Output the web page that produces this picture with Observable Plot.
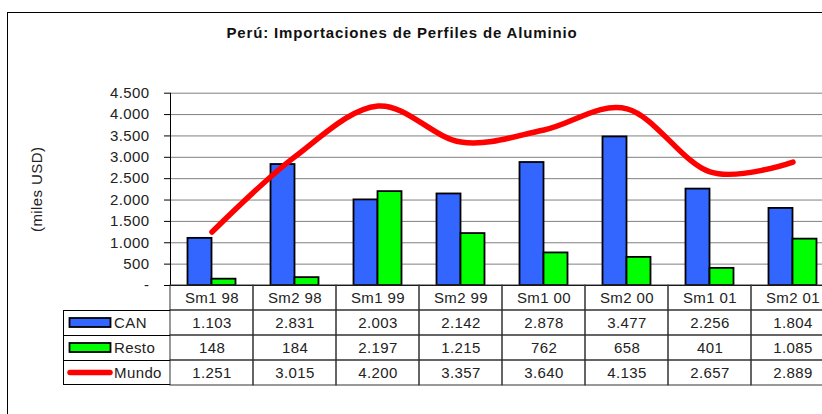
<!DOCTYPE html>
<html>
<head>
<meta charset="utf-8">
<script src="https://cdn.jsdelivr.net/npm/d3@7"></script>
<script src="https://cdn.jsdelivr.net/npm/@observablehq/plot@0.6"></script>
<style>
  html, body { margin: 0; padding: 0; background: #fff; overflow: hidden; }
  #wrap { position: relative; width: 822px; height: 414px; overflow: hidden; font-family: "Liberation Sans", Arial, sans-serif; }
  #frame { position: absolute; left: 7px; top: 12px; width: 900px; height: 500px; border: 1px solid #000; box-sizing: border-box; }
  #title { position: absolute; left: 0; top: 24px; width: 804px; text-align: center; font-size: 15px; letter-spacing: 0.85px; font-weight: bold; color: #111; }
  .layer { position: absolute; left: 0; top: 0; max-width: none !important; }
</style>
</head>
<body>
<div id="wrap">
  <div id="frame"></div>
  <div id="title">Perú: Importaciones de Perfiles de Aluminio</div>
</div>
<script>
const categories = ["Sm1 98","Sm2 98","Sm1 99","Sm2 99","Sm1 00","Sm2 00","Sm1 01","Sm2 01"];
const can   = [1103, 2831, 2003, 2142, 2878, 3477, 2256, 1804];
const resto = [148, 184, 2197, 1215, 762, 658, 401, 1085];
const mundo = [1251, 3015, 4200, 3357, 3640, 4135, 2657, 2889];
const yTicks = [0, 500, 1000, 1500, 2000, 2500, 3000, 3500, 4000, 4500];
const seriesNames = ["CAN", "Resto", "Mundo"];
const seriesColors = {CAN: "#3366ff", Resto: "#00ff00", Mundo: "#ff0000"};

const loc = d3.formatLocale({decimal: ",", thousands: ".", grouping: [3], currency: ["", ""]});
const fmt = loc.format(",d");

const canData = categories.map((c, i) => ({cat: c, value: can[i]}));
const restoData = categories.map((c, i) => ({cat: c, value: resto[i]}));
const mundoData = categories.map((c, i) => ({cat: c, value: mundo[i]}));

const W = 840, H = 414, ML = 170, MR = 6;
const font = {fontFamily: "'Liberation Sans', Arial, sans-serif", fontSize: "15px", color: "#222", background: "transparent", letterSpacing: "0.4px", maxWidth: "none"};

const chart = Plot.plot({
  width: W, height: H,
  marginLeft: ML, marginRight: MR, marginTop: 92.7, marginBottom: 129,
  style: font,
  x: {domain: categories, padding: 0, axis: null},
  y: {domain: [0, 4500]},
  marks: [
    Plot.gridY(yTicks, {stroke: "#808080", strokeOpacity: 1, strokeWidth: 1}),
    Plot.axisY({ticks: yTicks, tickFormat: d => d === 0 ? "-" : fmt(d), tickSize: 6, tickPadding: 15,
      stroke: "#000", label: "(miles USD)", labelAnchor: "center", labelArrow: "none", labelOffset: 139}),
    Plot.barY(canData, {x: "cat", y: "value", fill: seriesColors.CAN, stroke: "#000", strokeWidth: 1.8, insetLeft: 17.5, insetRight: 41.5}),
    Plot.barY(restoData, {x: "cat", y: "value", fill: seriesColors.Resto, stroke: "#000", strokeWidth: 1.8, insetLeft: 41.5, insetRight: 17.5}),
    Plot.ruleY([0], {stroke: "#000", strokeWidth: 1}),
    Plot.frame({anchor: "left", stroke: "#000"}),
    Plot.line(mundoData, {x: "cat", y: "value", stroke: seriesColors.Mundo, strokeWidth: 5.5, curve: "cardinal", strokeLinecap: "round", strokeLinejoin: "round"})
  ]
});
chart.classList.add("layer");
chart.style.maxWidth = "none";

// table rows
const rows = ["hdr", ...seriesNames];
const rowValues = {CAN: can, Resto: resto, Mundo: mundo};
const cells = [];
rows.forEach(r => categories.forEach((c, i) => {
  cells.push({row: r, cat: c, text: r === "hdr" ? c : fmt(rowValues[r][i])});
}));

const table = Plot.plot({
  width: W, height: H,
  marginLeft: ML, marginRight: MR, marginTop: 285, marginBottom: 29,
  style: font,
  x: {domain: categories, padding: 0, axis: null},
  y: {domain: rows, padding: 0, axis: null},
  marks: [
    Plot.cell(cells, {x: "cat", y: "row", fill: "none", stroke: "#333", strokeWidth: 1, inset: 0}),
    Plot.text(cells, {x: "cat", y: "row", text: "text", fill: "#222", fontSize: 15})
  ]
});
table.classList.add("layer");
table.style.maxWidth = "none";

document.getElementById("wrap").appendChild(chart);
document.getElementById("wrap").appendChild(table);

// legend column drawn in the table's left margin using its y scale
const ys = table.scale("y");
const bw = ys.bandwidth;
const svg = d3.select(table);
const g = svg.append("g").attr("text-anchor", "start");
const legLeft = 63;
const top0 = ys.apply("CAN"), bottom0 = ys.apply("Mundo") + bw;
g.append("line").attr("x1", legLeft + 0.5).attr("x2", legLeft + 0.5).attr("y1", top0).attr("y2", bottom0).attr("stroke", "#000");
seriesNames.forEach(s => {
  const y0 = ys.apply(s);
  const yc = y0 + bw / 2;
  g.append("line").attr("x1", legLeft).attr("x2", ML).attr("y1", y0 + 0.5).attr("y2", y0 + 0.5).attr("stroke", "#000");
  if (s === "Mundo") {
    g.append("line").attr("x1", 70).attr("x2", 110).attr("y1", yc).attr("y2", yc)
      .attr("stroke", seriesColors[s]).attr("stroke-width", 5.5).attr("stroke-linecap", "round");
  } else {
    g.append("rect").attr("x", 69.5).attr("y", yc - 4.5).attr("width", 41).attr("height", 9)
      .attr("fill", seriesColors[s]).attr("stroke", "#000").attr("stroke-width", 1.8);
  }
  g.append("text").attr("x", 114).attr("y", yc).attr("dy", "0.35em").attr("fill", "#222")
    .attr("text-anchor", "start").attr("font-size", 15).text(s);
});
g.append("line").attr("x1", legLeft).attr("x2", ML).attr("y1", bottom0 - 0.5).attr("y2", bottom0 - 0.5).attr("stroke", "#000");
</script>
</body>
</html>
